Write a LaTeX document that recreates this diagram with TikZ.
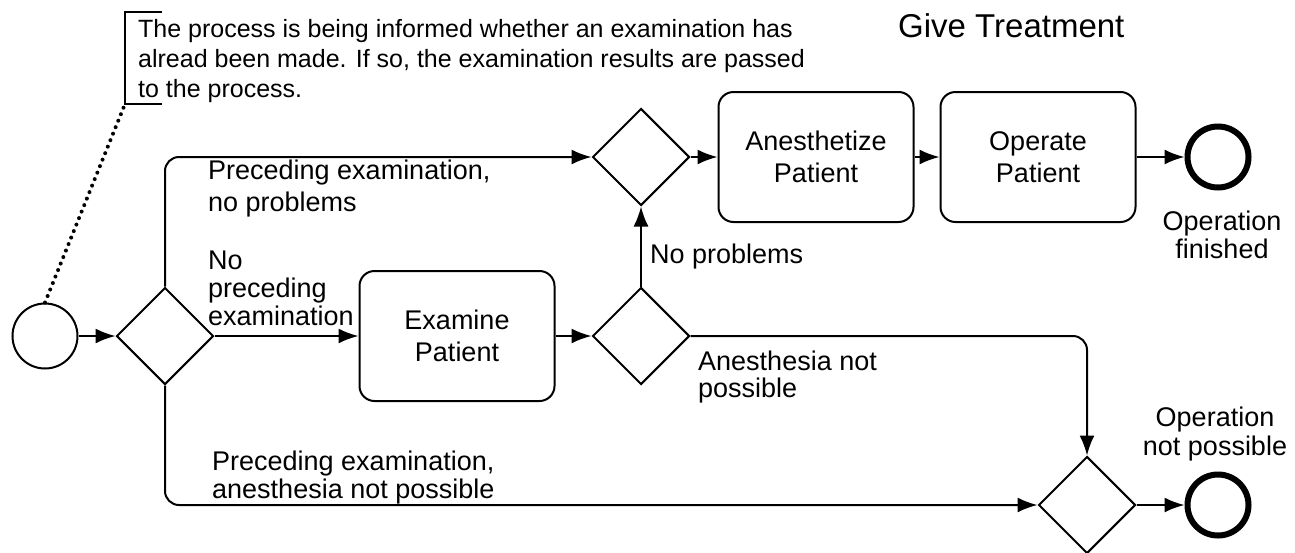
\documentclass[tikz,border=0pt]{standalone}
\usepackage{fontspec}
\setmainfont{Liberation Sans}
\usetikzlibrary{arrows.meta,shapes.geometric,positioning,calc}
\tikzstyle{task}=[rectangle, draw=black, line width=2pt, rounded corners=15pt, minimum width=195pt, minimum height=130pt, align=center, font=\fontsize{27}{32}\selectfont]
\tikzstyle{gate}=[diamond, draw=black, line width=2pt, minimum width=97pt, minimum height=97pt, inner sep=0pt]
\tikzstyle{startev}=[circle, draw=black, line width=2pt, minimum size=65pt, inner sep=0pt]
\tikzstyle{endev}=[circle, draw=black, line width=6pt, minimum size=61pt, inner sep=0pt]
\tikzstyle{lab}=[inner sep=0pt, anchor=base west, align=left, font=\fontsize{27}{28}\selectfont]
\tikzstyle{note}=[inner sep=0pt, anchor=base west, align=left, font=\fontsize{25}{30}\selectfont]
\tikzstyle{flow}=[line width=2pt, -{Latex[length=20pt,width=15pt]}]
\begin{document}
\begin{tikzpicture}[x=1pt, y=-1pt]
        \useasboundingbox (0,0) rectangle (1295,552);
        %
        \node[inner sep=0pt, anchor=base west, font=\fontsize{33}{36}\selectfont] (title) at (898,37) {Give Treatment};
        \node[note] (note) at (138,97) {The process is being informed whether an examination has\\alread been made. If so, the examination results are passed\\to the process.};
        \coordinate (ntop) at (125,12);
        \coordinate (nbot) at (125,104);
        \draw[line width=2pt] ($(ntop)+(37,0)$) -- (ntop) -- (nbot) -- ($(nbot)+(37,0)$);
        %
        \node[startev] (start) at (45,336) {};
        \node[gate] (g1) at (165,336) {};
        \node[task] (exam) at (457,336) {Examine\\Patient};
        \node[gate] (g2) at (641,336) {};
        \node[gate] (g3) at (641,157) {};
        \node[task] (anest) at (816,157) {Anesthetize\\Patient};
        \node[task] (oper) at (1038,157) {Operate\\Patient};
        \node[endev] (fin) at (1218,157) {};
        \node[gate] (g4) at (1087,505) {};
        \node[endev] (nop) at (1218,505) {};
        %
        \draw[line width=4pt, line cap=round, dash pattern=on 0pt off 7pt] (start.north) -- (nbot);
        \draw[flow] (start) -- (g1);
        \draw[flow] (g1) -- (exam);
        \draw[flow] (exam) -- (g2);
        \draw[flow] (g2) -- (g3);
        \draw[flow] (g3) -- (anest);
        \draw[flow] (anest) -- (oper);
        \draw[flow] (oper) -- (fin);
        \draw[flow] (g4) -- (nop);
        \draw[flow, rounded corners=14pt] (g1.north) |- (g3.west);
        \draw[flow, rounded corners=14pt] (g1.south) |- (g4.west);
        \draw[flow, rounded corners=14pt] (g2.east) -| (g4.north);
        %
        \node[lab, font=\fontsize{27}{32}\selectfont] (lpnp) at (208,211) {Preceding examination,\\no problems};
        \node[lab] (lnpe) at (208,325) {No\\preceding\\examination};
        \node[lab] (lnp) at (650,263) {No problems};
        \node[lab, font=\fontsize{27}{27}\selectfont] (lanp) at (698,397) {Anesthesia not\\possible};
        \node[lab] (lpanp) at (212,498) {Preceding examination,\\anesthesia not possible};
        \node[lab, align=center, anchor=base] (lfin) at (1222,258) {Operation\\finished};
        \node[lab, align=center, anchor=base, font=\fontsize{27}{29}\selectfont] (lnop) at (1215,455) {Operation\\not possible};
      %
      \end{tikzpicture}
\end{document}
